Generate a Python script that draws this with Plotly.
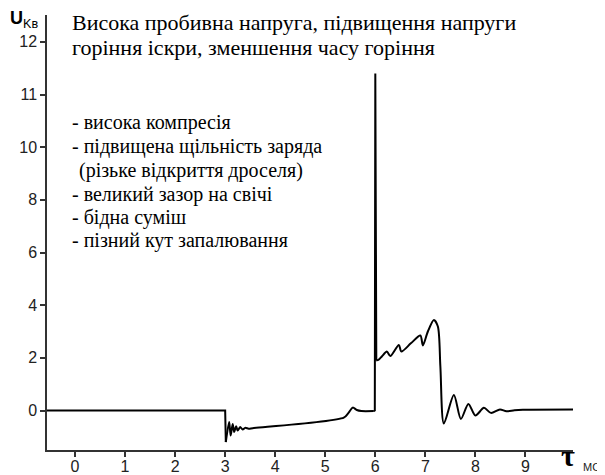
import plotly.graph_objects as go

# ---- data (time in ms, voltage in kV) ----
t_flat = [-0.56, 3.0, 3.013]
v_flat = [0.0, 0.0, -1.2]

t_ring = [3.013, 3.08, 3.11, 3.15, 3.18, 3.22, 3.25, 3.30, 3.35, 3.40, 3.47, 3.55,
          5.37, 5.46, 5.55, 5.63, 5.72, 5.97]
v_ring = [-1.2, -0.44, -0.95, -0.51, -0.82, -0.60, -0.76, -0.63, -0.72, -0.66, -0.69, -0.67,
          -0.27, -0.10, 0.11, 0.02, -0.02, -0.02]

t_spike = [5.97, 5.99, 6.0, 6.01, 6.02]
v_spike = [-0.02, 0.0, 11.4, 3.2, 1.9]

t_burn = [6.02, 6.06, 6.13, 6.23, 6.30, 6.47, 6.52, 6.71, 6.90, 6.95, 7.05, 7.17, 7.25,
          7.30, 7.37, 7.57, 7.71, 7.86, 8.00, 8.17, 8.31, 8.49, 8.62, 8.78, 8.95, 9.95]
v_burn = [1.9, 1.92, 2.05, 2.24, 2.07, 2.49, 2.24, 2.55, 2.85, 2.47, 3.0, 3.44, 3.19,
          1.67, -0.49, 0.59, -0.32, 0.25, -0.19, 0.10, -0.09, 0.04, -0.03, 0.01, 0.03, 0.04]

x_ticks = [0, 1, 2, 3, 4, 5, 6, 7, 8, 9]
y_tick_labels = [0, 2, 4, 6, 8, 10, 11, 12]

title_lines = ["Висока пробивна напруга, підвищення напруги",
               "горіння іскри, зменшення часу горіння"]
bullets = ["- висока компресія",
           "- підвищена щільність заряда",
           "(різьке відкриття дроселя)",
           "- великий зазор на свічі",
           "- бідна суміш",
           "- пізний кут запалювання"]


# broken vertical scale: 2 kV per division up to 10 kV, 1 kV per division above
def scale(v):
    return v / 2.0 if v <= 10 else 5.0 + (v - 10.0)


fig = go.Figure()
segs = [(t_flat, v_flat, "linear"), (t_ring, v_ring, "spline"),
        (t_spike, v_spike, "linear"), (t_burn, v_burn, "spline")]
for tt, vv, shape in segs:
    fig.add_trace(go.Scatter(x=tt, y=[scale(v) for v in vv], mode="lines",
                             line=dict(color="black", width=2, shape=shape, smoothing=0.8),
                             showlegend=False, hoverinfo="skip"))

# page has an 8px body margin, so the figure is 8px smaller and offset
fig.update_layout(
    width=597, height=467,
    margin=dict(l=39, r=32, t=7, b=25),
    plot_bgcolor="white", paper_bgcolor="white",
    font=dict(family="Liberation Sans, Arial", size=16, color="#222"),
)
fig.update_xaxes(range=[-0.56, 9.95], tickvals=x_ticks, ticktext=[str(x) for x in x_ticks],
                 showgrid=False, zeroline=False, showline=True, linecolor="#333", linewidth=1.5,
                 ticks="outside", ticklen=5, tickcolor="#333", tickwidth=1.5,
                 ticklabelstandoff=-4,
                 tickfont=dict(size=16, color="#222"), automargin=False)
fig.update_yaxes(range=[-0.75, 7.51], tickvals=[scale(v) for v in y_tick_labels],
                 ticktext=[str(v) for v in y_tick_labels],
                 showgrid=False, zeroline=False, showline=True, linecolor="#333", linewidth=1.5,
                 ticks="outside", ticklen=5, tickcolor="#333", tickwidth=1.5,
                 tickfont=dict(size=16, color="#222"), automargin=False)

serif = "Liberation Serif, Times New Roman"
title_y = [7.36, 6.89]
for txt, yy in zip(title_lines, title_y):
    fig.add_annotation(x=-0.1, y=yy, xref="x", yref="y", text=txt, showarrow=False,
                       xanchor="left", yanchor="middle",
                       font=dict(family=serif, size=22, color="black"))
bullet_y = [5.46, 5.02, 4.56, 4.11, 3.67, 3.23]
bullet_x = [-0.1, -0.1, 0.04, -0.1, -0.1, -0.1]
for txt, xx, yy in zip(bullets, bullet_x, bullet_y):
    fig.add_annotation(x=xx, y=yy, xref="x", yref="y", text=txt, showarrow=False,
                       xanchor="left", yanchor="middle",
                       font=dict(family=serif, size=20, color="black"))

fig.add_annotation(x=-0.075, y=0.99, xref="paper", yref="paper",
                   text="<b>U</b><sub>Kв</sub>", showarrow=False, xanchor="left", yanchor="middle",
                   font=dict(family="Liberation Sans, Arial", size=18, color="black"))
fig.add_annotation(x=0.99, y=-0.056, xref="paper", yref="paper",
                   text="<b>τ</b>", showarrow=False, xanchor="center", yanchor="bottom",
                   font=dict(family=serif, size=30, color="black"))
fig.add_annotation(x=1.035, y=-0.04, xref="paper", yref="paper",
                   text="МС", showarrow=False, xanchor="center", yanchor="middle",
                   font=dict(family="Liberation Sans, Arial", size=11, color="#222"))

fig.write_html("out.html")
